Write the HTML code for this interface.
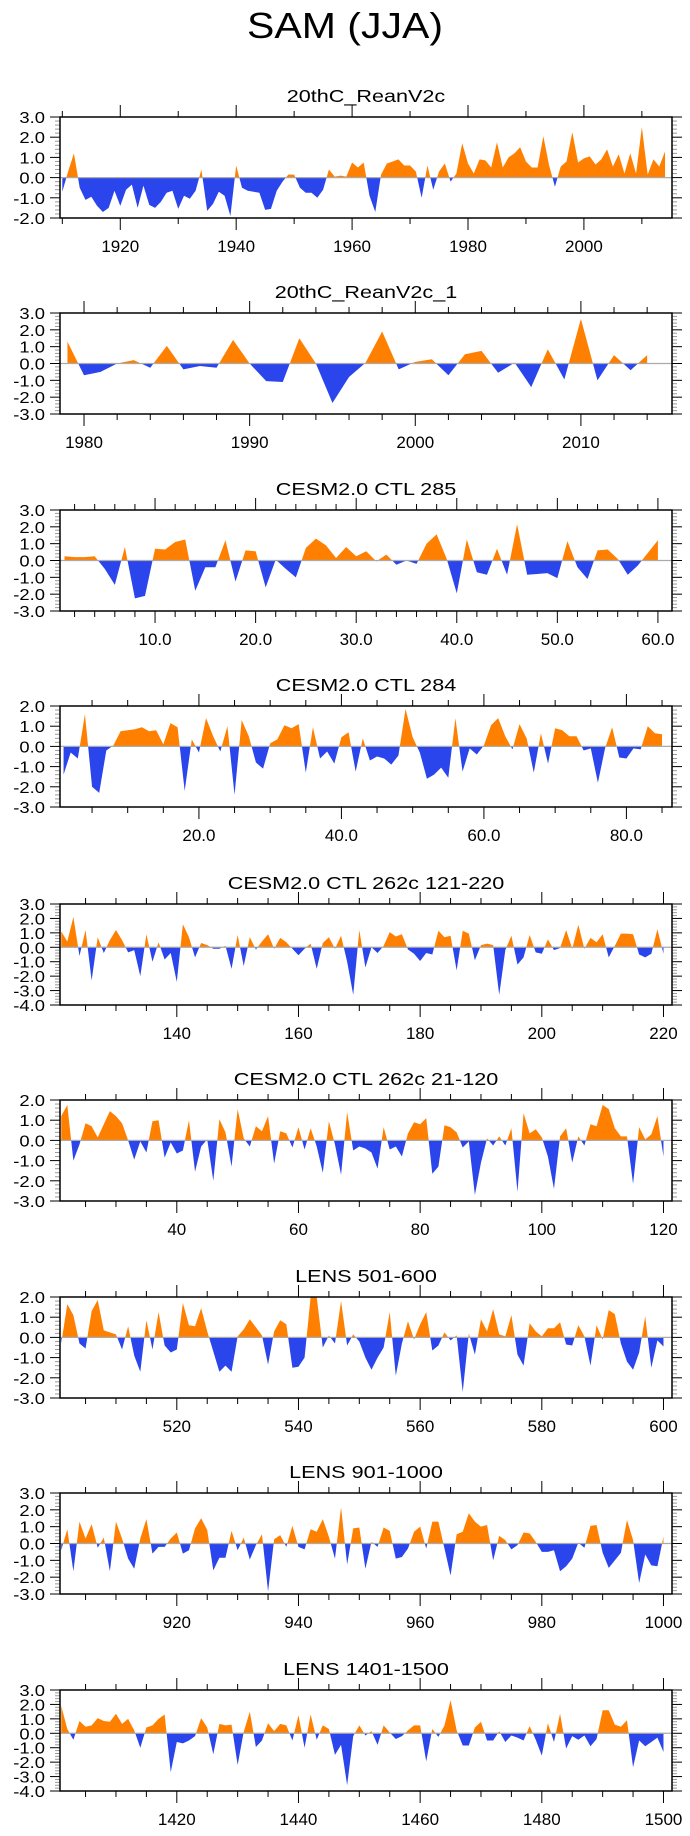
<!DOCTYPE html>
<html><head><meta charset="utf-8"><style>
html,body{margin:0;padding:0;background:#fff;}
svg{display:block;font-family:"Liberation Sans",sans-serif;}
</style></head><body>
<svg id="chart" width="690" height="1836" viewBox="0 0 690 1836" xmlns="http://www.w3.org/2000/svg">
<text transform="translate(345,38) scale(1.14,1)" text-anchor="middle" font-size="36">SAM (JJA)</text>
</svg>
<script>
const p1Start = 1910;
const p1Values = [-0.7,0.3,1.2,-0.5,-1.1,-0.95,-1.4,-1.7,-1.5,-0.65,-1.4,-0.6,-0.35,-1.5,-0.4,-1.35,-1.5,-1.2,-0.75,-0.65,-1.55,-0.9,-1.05,-0.65,0.4,-1.65,-1.3,-0.7,-0.9,-1.9,0.6,-0.5,-0.65,-0.7,-0.75,-1.6,-1.55,-0.65,-0.2,0.15,0.15,-0.5,-0.75,-0.75,-1.0,-0.6,0.4,0.05,0.1,0.05,0.75,0.5,0.75,-0.9,-1.7,0.15,0.7,0.8,0.9,0.6,0.6,0.3,-1.0,0.6,-0.6,0.3,0.7,-0.2,0.2,1.7,0.7,0.2,0.9,0.85,0.5,1.75,0.5,1.0,1.2,1.5,0.8,0.5,0.5,2.05,0.6,-0.45,0.55,0.8,2.25,0.75,0.95,1.05,0.65,0.9,1.4,0.55,1.15,0.2,1.2,0.2,2.5,0.15,0.9,0.55,1.3];
const p2Start = 1979;
const p2Values = [1.3,-0.7,-0.5,0.0,0.2,-0.25,1.05,-0.35,-0.15,-0.25,1.4,0.0,-1.05,-1.1,1.5,0.0,-2.35,-0.8,0.05,1.9,-0.35,0.1,0.25,-0.7,0.55,0.75,-0.55,0.05,-1.4,0.85,-0.95,2.65,-1.0,0.5,-0.4,0.5];
const p3Start = 1;
const p3Values = [0.25,0.2,0.2,0.25,-0.5,-1.45,0.8,-2.25,-2.1,0.7,0.65,1.1,1.25,-1.8,-0.4,-0.4,1.2,-1.25,0.6,0.55,-1.6,0.05,-0.5,-1.0,0.75,1.3,0.9,0.15,0.8,0.25,0.55,-0.05,0.35,-0.25,0.0,-0.2,1.0,1.55,0.1,-1.95,1.25,-0.7,-0.85,0.7,-0.85,2.15,-0.85,-0.8,-0.75,-1.05,1.15,-0.4,-1.1,0.6,0.65,0.1,-0.85,-0.3,0.45,1.2];
const p4Start = 1;
const p4Values = [-1.4,-0.3,-0.6,1.6,-2.0,-2.3,-0.2,0.05,0.75,0.8,0.85,0.95,0.75,0.8,0.1,1.15,0.95,-2.2,0.35,-0.3,1.4,0.5,-0.25,1.0,-2.4,1.3,0.5,-0.8,-1.1,0.15,0.35,1.05,0.9,1.1,-1.3,0.95,-0.6,-0.25,-0.85,0.45,0.7,-1.25,0.4,-0.7,-0.5,-0.6,-0.9,-0.45,1.85,0.45,-0.3,-1.6,-1.4,-1.05,-1.55,1.4,-1.25,-0.1,-0.4,0.05,1.05,1.4,0.5,-0.15,1.1,0.4,-1.3,0.65,-0.85,0.9,0.8,0.5,0.5,-0.2,-0.1,-1.8,-0.1,0.95,-0.55,-0.6,-0.1,-0.15,1.0,0.65,0.6];
const p5Start = 121;
const p5Values = [1.1,0.4,2.1,-0.6,1.2,-2.3,0.7,-0.4,0.5,1.2,0.5,-0.35,-0.2,-2.0,0.9,-1.0,0.35,-0.85,-0.4,-2.4,1.6,0.7,-0.7,0.3,0.15,-0.1,-0.1,0.1,-1.5,0.85,-1.3,0.7,-0.15,0.4,0.9,-0.1,0.65,0.35,-0.1,-0.55,-0.1,0.25,-1.5,0.3,0.7,-0.1,0.8,-1.0,-3.3,1.2,-1.4,0.0,-0.4,0.1,1.05,0.75,0.9,-0.15,-0.45,-0.95,-0.4,-0.5,1.15,0.7,0.8,-1.6,1.15,0.95,-0.9,0.15,0.25,0.15,-3.3,-0.2,0.8,-1.2,-0.7,0.85,-0.35,-0.45,0.55,-0.2,-0.05,1.2,-0.1,1.55,-0.1,0.65,0.35,0.9,-0.7,0.1,0.95,0.95,0.9,-0.5,-0.7,-0.45,1.25,-0.45];
const p6Start = 21;
const p6Values = [1.2,1.75,-1.0,-0.2,0.85,0.7,0.15,0.8,1.45,1.2,0.85,0.0,-0.95,-0.05,-0.6,0.95,1.0,-0.85,-0.1,-0.65,-0.5,1.0,-1.55,-0.3,0.05,-2.0,1.05,0.4,-1.3,1.55,0.1,-0.3,0.7,0.45,1.2,-1.15,0.45,0.35,-0.35,0.65,-0.45,0.6,-0.3,-1.6,0.95,-0.2,-1.7,1.4,-0.5,-0.3,-0.4,-0.6,-1.4,0.65,-0.45,-0.3,-0.8,0.35,0.9,0.8,1.1,-1.65,-1.3,0.75,0.65,0.4,-0.35,-0.05,-2.7,-1.1,0.1,-0.25,0.2,-0.25,0.6,-2.55,1.35,0.35,0.55,0.15,-0.8,-2.4,0.2,0.6,-1.1,0.2,-0.25,0.8,0.7,1.75,1.55,0.6,0.2,0.2,-2.15,0.65,0.05,0.3,1.2,-0.8];
const p7Start = 501;
const p7Values = [-0.3,1.65,1.1,-0.3,-0.55,1.3,1.85,0.35,0.25,0.15,-0.6,0.55,-0.9,-1.7,0.85,-0.6,1.25,-0.4,-0.75,-0.6,1.7,0.6,0.55,1.45,0.3,-0.7,-1.7,-1.4,-1.7,0.05,0.4,0.9,0.5,0.1,-1.35,0.3,0.85,0.65,-1.5,-1.45,-1.0,2.0,2.0,-0.5,0.1,-0.3,1.8,-0.4,0.15,-0.2,-1.0,-1.6,-1.0,-0.5,1.25,-1.9,-0.3,0.8,-0.1,0.65,1.25,-0.65,-0.4,0.25,-0.15,0.1,-2.7,0.2,-0.85,0.9,0.3,1.4,0.15,0.05,1.1,-0.85,-1.4,0.7,0.3,0.05,0.45,0.45,0.75,-0.35,-0.4,0.6,0.05,-1.4,0.6,-0.1,1.35,1.15,-0.3,-1.2,-1.6,-0.75,1.05,-1.5,-0.15,-0.45];
const p8Start = 901;
const p8Values = [-0.4,0.85,-1.65,1.3,0.3,1.15,-0.25,0.35,-1.65,1.3,0.3,-0.9,-1.5,0.3,1.45,-0.6,-0.2,-0.2,0.3,0.65,-0.6,-0.4,0.9,1.5,0.8,-1.6,-0.85,-0.85,0.75,-0.4,0.35,-0.95,-0.1,0.55,-2.85,0.25,0.5,-0.2,1.05,-0.2,-0.35,0.85,0.7,1.45,0.4,-0.9,2.15,-1.25,0.9,0.95,-1.5,0.1,-0.2,0.95,0.75,-0.9,-0.8,-0.3,0.7,1.0,-0.3,1.3,1.3,-0.3,-1.9,0.55,0.7,1.8,1.3,1.0,1.1,-1.0,0.45,0.2,-0.35,-0.1,0.65,0.6,0.1,-0.5,-0.5,-0.4,-1.65,-1.35,-0.9,0.05,-0.25,1.05,1.1,-0.55,-1.45,-1.0,-0.55,1.4,0.2,-2.35,-0.65,-1.3,-1.35,0.4];
const p9Start = 1401;
const p9Values = [1.9,0.3,-0.45,0.85,0.45,0.55,1.05,0.85,0.8,1.35,0.65,1.0,0.2,-1.0,0.4,0.55,1.0,1.3,-2.7,-0.6,-0.7,-0.5,-0.2,1.05,0.4,-1.45,0.65,0.55,0.6,-2.2,0.1,1.5,-0.95,-0.5,0.7,0.15,0.65,0.55,-0.5,1.25,-1.0,1.3,-0.45,0.55,0.3,-1.5,-0.8,-3.6,-0.2,0.55,-0.15,0.15,-0.8,0.55,0.05,-0.4,-0.2,0.2,0.55,0.55,-1.95,0.3,-0.25,0.55,2.3,0.2,-0.85,-0.85,0.4,0.8,-0.5,-0.5,0.15,-0.6,-0.15,-0.3,-0.5,0.5,-0.45,-1.55,0.7,-0.6,1.35,-1.05,-0.2,-0.45,-0.15,-0.9,-0.4,1.6,1.6,0.6,0.45,0.9,-2.35,-0.5,-0.9,-0.6,-0.3,-1.3];

const panelTitles = ["20thC_ReanV2c","20thC_ReanV2c_1","CESM2.0 CTL 285","CESM2.0 CTL 284","CESM2.0 CTL 262c 121-220","CESM2.0 CTL 262c 21-120","LENS 501-600","LENS 901-1000","LENS 1401-1500"];

const NS = "http://www.w3.org/2000/svg";
const svg = document.getElementById('chart');
const L = 60, R = 672;
const panels = [
 {v:p1Values,s:p1Start,xmin:1909.6,xmax:2015.2,ymin:-2,ymax:3,bot:218,maj:20,mn:10,dec:0,first:1920},
 {v:p2Values,s:p2Start,xmin:1978.55,xmax:2015.5,ymin:-3,ymax:3,bot:414,maj:10,mn:2,dec:0,first:1980},
 {v:p3Values,s:p3Start,xmin:0.55,xmax:61.4,ymin:-3,ymax:3,bot:611,maj:10,mn:2,dec:1,first:10},
 {v:p4Values,s:p4Start,xmin:0.5,xmax:86.4,ymin:-3,ymax:2,bot:807,maj:20,mn:5,dec:1,first:20},
 {v:p5Values,s:p5Start,xmin:120.8,xmax:221.4,ymin:-4,ymax:3,bot:1005,maj:20,mn:5,dec:0,first:140},
 {v:p6Values,s:p6Start,xmin:20.8,xmax:121.4,ymin:-3,ymax:2,bot:1201,maj:20,mn:5,dec:0,first:40},
 {v:p7Values,s:p7Start,xmin:500.8,xmax:601.4,ymin:-3,ymax:2,bot:1398,maj:20,mn:5,dec:0,first:520},
 {v:p8Values,s:p8Start,xmin:900.8,xmax:1001.4,ymin:-3,ymax:3,bot:1594,maj:20,mn:5,dec:0,first:920},
 {v:p9Values,s:p9Start,xmin:1400.8,xmax:1501.4,ymin:-4,ymax:3,bot:1791,maj:20,mn:5,dec:0,first:1420}
];
function mk(tag, attrs, parent){
  const e = document.createElementNS(NS, tag);
  for (const k in attrs) e.setAttribute(k, attrs[k]);
  (parent||svg).appendChild(e);
  return e;
}
panels.forEach((p, pi) => {
  const top = p.bot - 101, bot = p.bot;
  const g = mk('g', {});
  
  
  const xs = x => L + (x - p.xmin) / (p.xmax - p.xmin) * (R - L);
  const ys = y => bot - (y - p.ymin) / (p.ymax - p.ymin) * (bot - top);
  const t = mk('text', {transform:`translate(366,${top-15}) scale(1.2,1)`, 'text-anchor':'middle', 'font-size':18}, g);
  t.textContent = panelTitles[pi];
  
  
  // clips
  const cid = 'c' + pi;
  const defs = mk('defs', {}, g);
  const ca = mk('clipPath', {id: cid+'a'}, defs);
  mk('rect', {x:L, y:top, width:R-L, height:ys(0)-top}, ca);
  const cb = mk('clipPath', {id: cid+'b'}, defs);
  mk('rect', {x:L, y:ys(0), width:R-L, height:bot-ys(0)}, cb);
  let d = `M${xs(p.s).toFixed(2)},${ys(0).toFixed(2)}`;
  p.v.forEach((v, i) => { d += ` L${xs(p.s+i).toFixed(2)},${ys(v).toFixed(2)}`; });
  d += ` L${xs(p.s+p.v.length-1).toFixed(2)},${ys(0).toFixed(2)} Z`;
  const pos = mk('path', {d, fill:'#ff8000', 'clip-path':`url(#${cid}a)`}, g);
  
  
  const neg = mk('path', {d, fill:'#2a45ec', 'clip-path':`url(#${cid}b)`}, g);
  
  
  const zl = mk('line', {x1:L, x2:R, y1:ys(0), y2:ys(0), stroke:'#aaa', 'stroke-width':1.2}, g);
  
  
  // y ticks
  for (let k = Math.round(p.ymin*5); k <= Math.round(p.ymax*5); k++) {
    const yv = k/5, y = ys(yv), major = k % 5 === 0;
    const len = major ? 10 : 5, col = major ? '#000' : '#999';
    mk('line', {x1:L-len, x2:L, y1:y, y2:y, stroke:col, 'stroke-width':1}, g);
    mk('line', {x1:R, x2:R+len, y1:y, y2:y, stroke:col, 'stroke-width':1}, g);
    if (major) {
      const lb = mk('text', {transform:`translate(45,${y+6}) scale(1.15,1)`, 'text-anchor':'end', 'font-size':16}, g);
      lb.textContent = yv.toFixed(1);
      
      
    }
  }
  // x ticks
  const st = Math.ceil(p.xmin / p.mn) * p.mn;
  for (let xv = st; xv <= p.xmax + 1e-9; xv += p.mn) {
    const x = xs(xv), major = Math.abs((xv - p.first) / p.maj - Math.round((xv - p.first) / p.maj)) < 1e-6;
    const len = major ? 12 : 6;
    mk('line', {x1:x, x2:x, y1:top-len, y2:top, stroke:'#000', 'stroke-width':1}, g);
    mk('line', {x1:x, x2:x, y1:bot, y2:bot+len, stroke:'#000', 'stroke-width':1}, g);
    if (major) {
      const lb = mk('text', {x:x, y:bot+34, 'text-anchor':'middle', 'font-size':17}, g);
      lb.textContent = p.dec ? xv.toFixed(1) : String(Math.round(xv));
      
      
    }
  }
  const box = mk('rect', {x:L, y:top, width:R-L, height:bot-top, fill:'none', stroke:'#000', 'stroke-width':1.5}, g);
  
  
});
</script>
</body></html>
